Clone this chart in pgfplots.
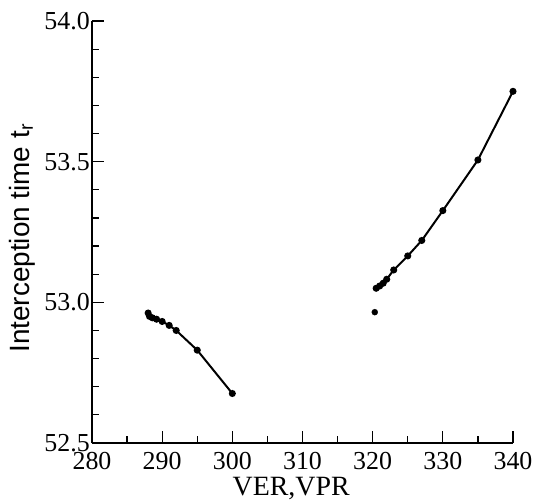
\documentclass[border=0pt]{standalone}
\usepackage{fontspec}
\setmainfont{Liberation Serif}
\newfontfamily\labelsans{Liberation Sans}
\newfontfamily\labelserif{Liberation Serif}
\usepackage{pgfplots}
\pgfplotsset{compat=1.18}

% Interception time versus VER / VPR
\pgfplotstableread{
x      y
288.0  52.962
288.2  52.950
288.6  52.945
289.2  52.940
290.0  52.932
291.0  52.918
292.0  52.900
295.0  52.830
300.0  52.676
}\lowbranch

\pgfplotstableread{
x      y
320.5  53.050
321.0  53.058
321.5  53.068
322.0  53.082
323.0  53.115
325.0  53.165
327.0  53.220
330.0  53.326
335.0  53.506
340.0  53.750
}\highbranch

\begin{document}
\begin{tikzpicture}
\begin{axis}[
  scale only axis,
  width=421bp, height=422bp,
  xmin=280, xmax=340, ymin=52.5, ymax=54.0,
  axis lines=left,
  axis line style={-, line width=1.6pt},
  clip=false,
  xtick={280,290,300,310,320,330,340},
  xticklabels={280,290,300,310,320,330,340},
  ytick={52.5,53.0,53.5,54.0},
  yticklabels={52.5,53.0,53.5,54.0},
  minor x tick num=1,
  minor y tick num=4,
  tick align=inside,
  major tick length=12bp,
  minor tick length=7bp,
  every tick/.style={black, line width=1.2pt},
  xticklabel style={font=\labelserif\fontsize{26}{26}\selectfont, inner sep=0pt, anchor=north, yshift=-9bp},
  yticklabel style={font=\labelserif\fontsize{26}{26}\selectfont, inner sep=0pt, anchor=east, xshift=-2bp},
  xlabel={VER,VPR},
  xlabel style={font=\labelserif\fontsize{28}{28}\selectfont, at={(axis description cs:0.473,0)},
    anchor=north, inner sep=0pt, yshift=-34bp},
  ylabel={\labelsans Interception time t\textsubscript{r}},
  ylabel style={font=\fontsize{28}{28}\selectfont, at={(axis description cs:-0.135,0.485)},
    anchor=south, rotate=0, inner sep=0pt},
]
\addplot[black, line width=2pt, mark=*, mark size=2.5pt] table[x=x, y=y] {\lowbranch};
\addplot[black, line width=2pt, mark=*, mark size=2.5pt] table[x=x, y=y] {\highbranch};
\addplot[black, only marks, mark=*, mark size=3pt] coordinates {(320.3,52.965)};
\end{axis}
\pgfresetboundingbox
\path (current axis.origin) ++(-92bp,-61bp) rectangle ++(537bp,504bp);
\end{tikzpicture}
\end{document}
